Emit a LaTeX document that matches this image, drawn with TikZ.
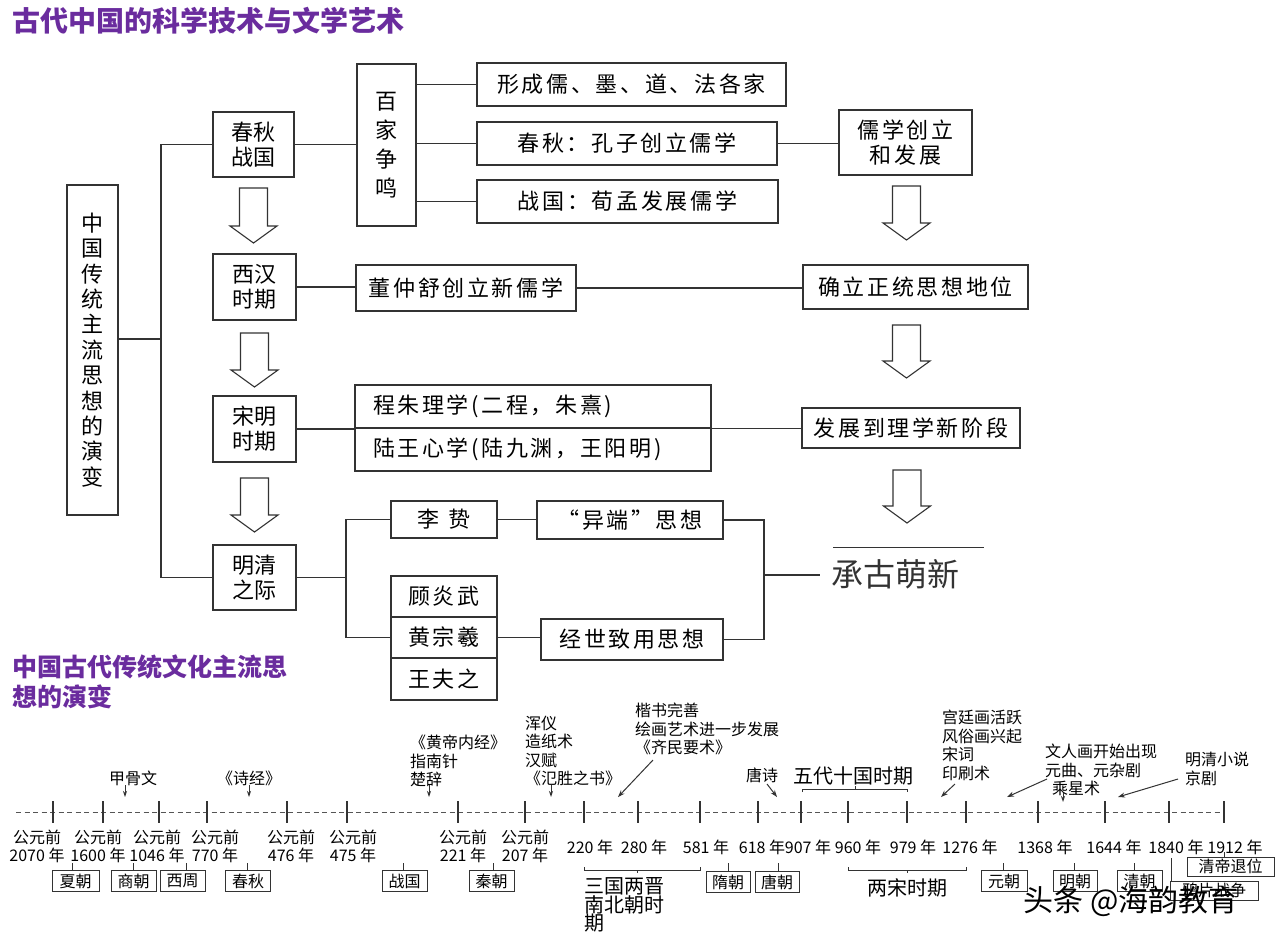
\documentclass[tikz,border=0pt]{standalone}
\usepackage{fontspec}
\setmainfont{Noto Sans CJK SC}
\newfontfamily\spcfont[LetterSpace=12]{Noto Sans CJK SC}
\usetikzlibrary{arrows.meta}
\definecolor{ttl}{HTML}{6A2C9E}
\definecolor{ln}{HTML}{333333}
\definecolor{tl}{HTML}{555555}
\tikzset{
  box/.style={draw=ln, line width=1.1pt, inner sep=0pt, align=center, text=black},
  bigtxt/.style={font=\spcfont\fontsize{22}{25}\selectfont},
  pertxt/.style={font=\fontsize{22}{25}\selectfont},
  con/.style={draw=ln, line width=1.1pt},
  hollow/.style={draw=ln, line width=1.1pt, fill=white, line join=miter},
  yl/.style={inner sep=0pt, align=center, font=\fontsize{16}{18}\selectfont},
  ann/.style={inner sep=0pt, align=left, anchor=west, font=\fontsize{16}{18.5}\selectfont},
  sb/.style={draw=ln, line width=1pt, inner sep=0pt, minimum width=45pt, minimum height=21pt, font=\fontsize{16}{16}\selectfont},
  tick/.style={draw=ln, line width=1.1pt},
  mk/.style={draw=ln, line width=0.9pt, -{Stealth[length=6pt,width=4pt]}},
  da/.style={draw=ln, line width=1pt, -{Stealth[length=7pt,width=5pt]}},
  brk/.style={draw=ln, line width=1pt},
}
\newcommand\hollowarr[3]{%
  \draw[hollow] ({#1-14},#2) -- ({#1+14},#2) -- ({#1+14},{#3-17}) -- ({#1+23.5},{#3-17})
    -- (#1,#3) -- ({#1-23.5},{#3-17}) -- ({#1-14},{#3-17}) -- cycle;}
\begin{document}
\begin{tikzpicture}[x=1pt,y=-1pt]
\useasboundingbox[fill=white] (0,0) rectangle (1280,946);

% titles
\node[anchor=west, inner sep=0pt, text=ttl, font=\bfseries\fontsize{28}{30}\selectfont] (title) at (12,21) {古代中国的科学技术与文学艺术};
\node[anchor=west, inner sep=0pt, text=ttl, align=left, font=\bfseries\fontsize{25}{30}\selectfont] (title2) at (12,682) {中国古代传统文化主流思\\想的演变};

% left main box
\node[box, minimum width=51pt, minimum height=330pt, font=\fontsize{22}{25.4}\selectfont] (main) at (92.5,350)
  {中\\国\\传\\统\\主\\流\\思\\想\\的\\演\\变};

% period boxes
\node[box, pertxt, minimum width=81pt, minimum height=65pt] (cq) at (253.5,144.5) {春秋\\战国};
\node[box, pertxt, minimum width=83pt, minimum height=66pt] (xh) at (254.5,287) {西汉\\时期};
\node[box, pertxt, minimum width=83pt, minimum height=66pt] (sm) at (254.5,429) {宋明\\时期};
\node[box, pertxt, minimum width=83pt, minimum height=65pt] (mq) at (254.5,577.5) {明清\\之际};

\hollowarr{253.5}{188}{243}
\hollowarr{254.5}{333}{387}
\hollowarr{254.5}{478}{532}

% trunk
\coordinate (tr) at (161,339);
\draw[con] (main.east |- tr) -- (tr);
\draw[con] (cq.west) -| (tr) |- (mq.west);

% baijia
\node[box, minimum width=59pt, minimum height=162pt, font=\fontsize{22}{29}\selectfont] (bj) at (386.5,145) {百\\家\\争\\鸣};
\node[box, bigtxt, minimum width=309pt, minimum height=43pt] (f1) at (631.5,84.5) {形成儒、墨、道、法各家};
\node[box, bigtxt, minimum width=300pt, minimum height=43pt] (f2) at (627,143.5) {春秋：孔子创立儒学};
\node[box, bigtxt, minimum width=301pt, minimum height=43pt] (f3) at (627.5,201.5) {战国：荀孟发展儒学};
\node[box, bigtxt, minimum width=133pt, minimum height=65pt] (rx) at (905.5,142.5) {儒学创立\\和发展};
\draw[con] (cq.east) -- (bj.west |- cq.east);
\draw[con] (bj.east |- f1.west) -- (f1.west);
\draw[con] (bj.east |- f2.west) -- (f2.west);
\draw[con] (bj.east |- f3.west) -- (f3.west);
\draw[con] (f2.east) -- (rx.west |- f2.east);

% xihan
\node[box, bigtxt, minimum width=220pt, minimum height=46pt] (dz) at (466,288) {董仲舒创立新儒学};
\node[box, bigtxt, minimum width=225pt, minimum height=44pt] (qd) at (915.5,287) {确立正统思想地位};
\draw[con] (xh.east) -- (dz.west |- xh.east);
\draw[con] (dz.east) -- (qd.west |- dz.east);

% songming
\node[box, bigtxt, minimum width=356pt, minimum height=43pt, text width=320pt, align=left] (cz1) at (533,406.5) {程朱理学(二程，朱熹)};
\node[box, bigtxt, minimum width=356pt, minimum height=43pt, text width=320pt, align=left] (cz2) at (533,449.5) {陆王心学(陆九渊，王阳明)};
\node[box, bigtxt, minimum width=218pt, minimum height=40pt] (fz) at (911,428) {发展到理学新阶段};
\draw[con] (sm.east) -- (sm.east -| cz1.west);
\draw[con] (cz1.south east) -- (fz.west |- cz1.south east);

% right arrows
\hollowarr{906.5}{186}{240}
\hollowarr{906.5}{325}{378}
\hollowarr{907}{470}{523}

% mingqing
\node[box, bigtxt, minimum width=106pt, minimum height=37pt] (lz) at (444,519.5) {李\hspace{10pt}贽};
\node[box, bigtxt, minimum width=186pt, minimum height=38pt] (yd) at (630,520) {“异端”思想};
\node[box, bigtxt, minimum width=106pt, minimum height=41pt] (g1) at (444,596.5) {顾炎武};
\node[box, bigtxt, minimum width=106pt, minimum height=41pt] (g2) at (444,637.5) {黄宗羲};
\node[box, bigtxt, minimum width=106pt, minimum height=42pt] (g3) at (444,679) {王夫之};
\node[box, bigtxt, minimum width=182pt, minimum height=41pt] (jz) at (632,639.5) {经世致用思想};
\coordinate (mv) at (346,577.5);
\draw[con] (mq.east) -- (mv);
\draw[con] (lz.west) -| (mv) |- (g2.west);
\draw[con] (lz.east) -- (yd.west |- lz.east);
\draw[con] (g2.east) -- (jz.west |- g2.east);
\coordinate (rv) at (764,575);
\coordinate (cgend) at (820,575);
\draw[con] (yd.east) -| (rv) |- (jz.east);
\draw[con] (rv) -- (cgend);
\coordinate (cl1) at (833,547);
\coordinate (cl2) at (984,547);
\draw[con, line width=0.9pt] (cl1) -- (cl2);
\node[inner sep=0pt, anchor=west, font=\fontsize{32}{34}\selectfont, text=ln] (cgmx) at (831,574) {承古萌新};

% ===== timeline =====
\coordinate (tl0) at (16,812);
\coordinate (tl1) at (1224,812);
\draw[tl, line width=1pt, dash pattern=on 5pt off 3.5pt] (tl0) -- (tl1);
\foreach \x in {53,103,159,207,287,347,458,525,584,638,700,758,801,848,907,966,1038,1105,1169,1224}
  \draw[tick] (\x,801) -- (\x,823);

% year labels
\node[yl] (y1) at (37,846) {公元前\\2070 年};
\node[yl] (y2) at (98,846) {公元前\\1600 年};
\node[yl] (y3) at (157,846) {公元前\\1046 年};
\node[yl] (y4) at (215,846) {公元前\\770 年};
\node[yl] (y5) at (291,846) {公元前\\476 年};
\node[yl] (y6) at (353,846) {公元前\\475 年};
\node[yl] (y7) at (463,846) {公元前\\221 年};
\node[yl] (y8) at (525,846) {公元前\\207 年};
\node[yl] (y9) at (590,847) {220 年};
\node[yl] (y10) at (644,847) {280 年};
\node[yl] (y11) at (706,847) {581 年};
\node[yl] (y12) at (762,847) {618 年};
\node[yl] (y13) at (808,847) {907 年};
\node[yl] (y14) at (858,847) {960 年};
\node[yl] (y15) at (913,847) {979 年};
\node[yl] (y16) at (970,847) {1276 年};
\node[yl] (y17) at (1045,847) {1368 年};
\node[yl] (y18) at (1114,847) {1644 年};
\node[yl] (y19) at (1176,847) {1840 年};
\node[yl] (y20) at (1235,847) {1912 年};

% dynasty boxes
\node[sb, minimum width=47pt] (xia) at (75.5,881) {夏朝};
\node[sb] (shang) at (133.5,881) {商朝};
\node[sb] (xz) at (182.5,881) {西周};
\node[sb] (chq) at (248,881) {春秋};
\node[sb] (zg) at (404.5,881) {战国};
\node[sb] (qin) at (491.5,881) {秦朝};
\node[sb, minimum width=44pt] (sui) at (728,882) {隋朝};
\node[sb, minimum width=44pt] (tang) at (777,882) {唐朝};
\node[sb, minimum width=46pt] (yuan) at (1004,881) {元朝};
\node[sb, minimum width=44pt] (ming) at (1075,881) {明朝};
\node[sb] (qing) at (1139.5,881) {清朝};
\node[sb, minimum width=87pt, minimum height=19pt] (qdtw) at (1230.5,866.5) {清帝退位};
\node[sb, minimum width=88pt, minimum height=19pt] (ypzz) at (1214,890.5) {鸦片战争};
\draw[tick, line width=0.9pt] (72,863 |- xia.north) -- (72,863);
\draw[tick, line width=0.9pt] (133,863 |- shang.north) -- (133,863);
\draw[tick, line width=0.9pt] (186,863 |- xz.north) -- (186,863);
\draw[tick, line width=0.9pt] (247,863 |- chq.north) -- (247,863);
\draw[tick, line width=0.9pt] (403,863 |- zg.north) -- (403,863);
\draw[tick, line width=0.9pt] (493,863 |- qin.north) -- (493,863);
\draw[tick, line width=0.9pt] (728,863 |- sui.north) -- (728,863);
\draw[tick, line width=0.9pt] (778,863 |- tang.north) -- (778,863);
\draw[tick, line width=0.9pt] (1003,863 |- yuan.north) -- (1003,863);
\draw[tick, line width=0.9pt] (1074,863 |- ming.north) -- (1074,863);
\draw[tick, line width=0.9pt] (1134,863 |- qing.north) -- (1134,863);
\draw[tick, line width=0.9pt] (1224,852 |- qdtw.north) -- (1224,852);
\draw[tick, line width=0.9pt] (1171,858) -- (1171,858 |- ypzz.north);

% brackets
\draw[brk] (584,867) -- (584,870) -- (700,870) -- (700,867);
\draw[brk] (637,870) -- (637,873);
\node[ann, font=\fontsize{20}{18.5}\selectfont] (sgl) at (584,905) {三国两晋\\南北朝时\\期};
\draw[brk] (848,867) -- (848,870) -- (966,870) -- (966,867);
\draw[brk] (907,870) -- (907,873);
\node[inner sep=0pt, font=\fontsize{20}{22}\selectfont] (lsong) at (907,888) {两宋时期};
\node[inner sep=0pt, font=\fontsize{20}{22}\selectfont] (wdsg) at (853,776) {五代十国时期};
\draw[brk] (802,792) -- (802,789) -- (907,789) -- (907,792);
\draw[brk] (855,789) -- (855,786);

% annotations
\node[inner sep=0pt, font=\fontsize{16}{18}\selectfont] (jgw) at (133,778) {甲骨文};
\draw[mk] (125,785) -- (125,797);
\node[inner sep=0pt, font=\fontsize{16}{18}\selectfont] (sj) at (249,778) {《诗经》};
\draw[mk] (249,785) -- (249,797);
\node[ann] (a1) at (410,761) {《黄帝内经》\\指南针\\楚辞};
\draw[mk] (429,785) -- (429,797);
\node[ann] (a2) at (525,751) {浑仪\\造纸术\\汉赋\\《氾胜之书》};
\draw[mk] (551,785) -- (551,797);
\node[ann] (a3) at (635,729) {楷书完善\\绘画艺术进一步发展\\《齐民要术》};
\draw[da] (653,760) -- (618,797);
\node[inner sep=0pt, font=\fontsize{16}{18}\selectfont] (ts) at (762,775) {唐诗};
\draw[da] (767,784) -- (777,797);
\node[ann] (a4) at (942,745.5) {宫廷画活跃\\风俗画兴起\\宋词\\印刷术};
\draw[da] (955,784) -- (941,797);
\node[ann] (a5) at (1045,761) {文人画开始出现\\元曲、元杂剧};
\draw[da] (1047,779) -- (1007,797);
\node[inner sep=0pt, font=\fontsize{16}{18}\selectfont] (cxs) at (1076,788) {乘星术};
\draw[mk] (1063,793) -- (1063,802);
\node[ann] (a6) at (1185,769) {明清小说\\京剧};
\draw[da] (1178,779) -- (1118,797);

% watermark
\node[inner sep=0pt, font=\fontsize{30}{32}\selectfont, text=black] (wm) at (1131,901) {头条 @海韵教育};
\end{tikzpicture}
\end{document}
